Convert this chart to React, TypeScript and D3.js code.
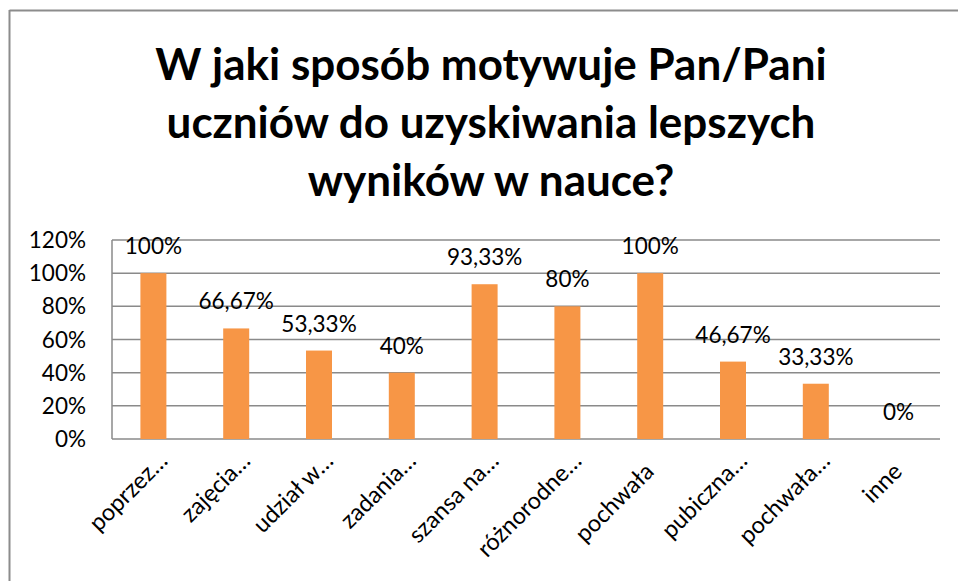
import { useMemo } from 'react';
import { scaleBand, scaleLinear, range } from 'd3';

const WIDTH = 958;
const HEIGHT = 581;
const PLOT = { left: 112, right: 940, top: 240, bottom: 439 };
const FONT = 'Lato, "Open Sans", sans-serif';
const BAR_COLOR = '#F79646';
const GRID_COLOR = '#8a8a8a';

const TITLE_LINES = [
  'W jaki sposób motywuje Pan/Pani',
  'uczniów do uzyskiwania lepszych',
  'wyników w nauce?',
];

const CATEGORIES = [
  'poprzez…',
  'zajęcia…',
  'udział w…',
  'zadania…',
  'szansa na…',
  'różnorodne…',
  'pochwała',
  'pubiczna…',
  'pochwała…',
  'inne',
];

const VALUES = [100, 66.67, 53.33, 40, 93.33, 80, 100, 46.67, 33.33, 0];

const Y_TICKS = [0, 20, 40, 60, 80, 100, 120];

const fmtPct = (v: number) =>
  Number.isInteger(v) ? `${v}%` : `${v.toFixed(2).replace('.', ',')}%`;

export default function App() {
  const { x, y, bars } = useMemo(() => {
    const gap = 0.686;
    const x = scaleBand<string>()
      .domain(CATEGORIES)
      .range([PLOT.left, PLOT.right])
      .paddingInner(gap)
      .paddingOuter(gap / 2);
    const y = scaleLinear().domain([0, 120]).range([PLOT.bottom, PLOT.top]);
    const bars = range(CATEGORIES.length).map((i) => ({
      cat: CATEGORIES[i],
      value: VALUES[i],
      x: x(CATEGORIES[i]) as number,
      w: x.bandwidth(),
      top: y(VALUES[i]),
    }));
    return { x, y, bars };
  }, []);

  return (
    <svg
      width={WIDTH}
      height={HEIGHT}
      viewBox={`0 0 ${WIDTH} ${HEIGHT}`}
      style={{ position: 'absolute', left: 0, top: 0, background: '#fff' }}
    >
      {/* chart frame: only top and left edges are visible */}
      <line x1={9.5} y1={10.5} x2={WIDTH} y2={10.5} stroke="#8c8c8c" strokeWidth={2} />
      <line x1={9.5} y1={10} x2={9.5} y2={HEIGHT} stroke="#8c8c8c" strokeWidth={2} />

      {TITLE_LINES.map((t, i) => (
        <text
          key={t}
          x={491}
          y={80 + i * 58}
          textAnchor="middle"
          fontFamily={FONT}
          fontWeight={700}
          fontSize={44}
          fill="#000"
        >
          {t}
        </text>
      ))}

      {/* gridlines */}
      {Y_TICKS.map((t) => (
        <line
          key={t}
          x1={PLOT.left}
          x2={PLOT.right}
          y1={y(t)}
          y2={y(t)}
          stroke={GRID_COLOR}
          strokeWidth={1.5}
        />
      ))}
      <line
        x1={PLOT.left}
        x2={PLOT.left}
        y1={PLOT.top}
        y2={PLOT.bottom}
        stroke={GRID_COLOR}
        strokeWidth={1.5}
      />

      {/* y axis labels */}
      {Y_TICKS.map((t) => (
        <text
          key={t}
          x={86}
          y={y(t)}
          dy="0.36em"
          textAnchor="end"
          fontFamily={FONT}
          fontSize={22.5}
          fill="#000"
        >
          {t}%
        </text>
      ))}

      {/* bars */}
      {bars.map((b) => (
        <rect
          key={b.cat}
          x={b.x}
          y={b.top}
          width={b.w}
          height={PLOT.bottom - b.top}
          fill={BAR_COLOR}
        />
      ))}

      {/* value labels */}
      {bars.map((b) => (
        <text
          key={b.cat}
          x={b.x + b.w / 2}
          y={b.top - 19}
          textAnchor="middle"
          fontFamily={FONT}
          fontSize={22.5}
          fill="#000"
        >
          {fmtPct(b.value)}
        </text>
      ))}

      {/* category labels, rotated */}
      {CATEGORIES.map((c) => {
        const cx = (x(c) as number) + x.bandwidth() / 2;
        const shift = c.endsWith('…') ? 15 : 0;
        return (
          <text
            key={c}
            transform={`translate(${cx + 5},${PLOT.bottom + 34}) rotate(-45)`}
            dx={shift}
            textAnchor="end"
            fontFamily={FONT}
            fontSize={23.5}
            fill="#000"
          >
            {c}
          </text>
        );
      })}
    </svg>
  );
}
